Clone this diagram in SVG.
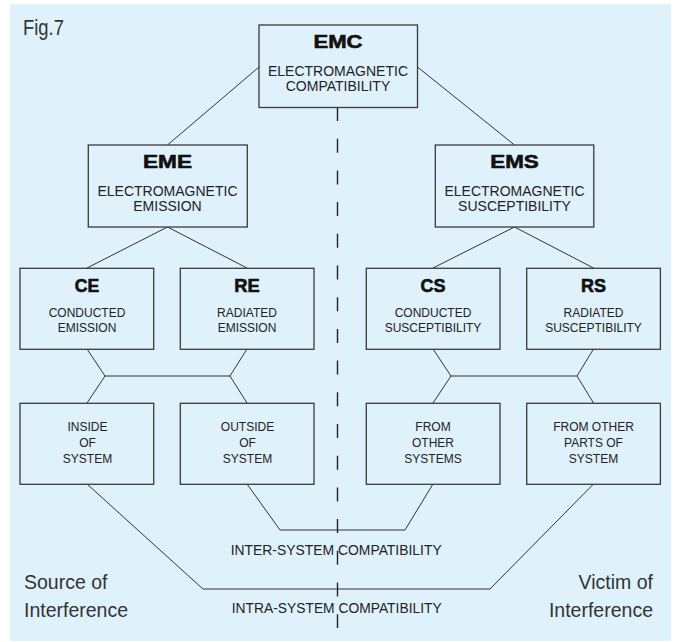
<svg xmlns="http://www.w3.org/2000/svg" width="676" height="642" viewBox="0 0 676 642">
<style>
.box{fill:#dff1fb;stroke:#3a3a3a;stroke-width:1.3}
.ln{fill:none;stroke:#333;stroke-width:1}
.dash{fill:none;stroke:#222;stroke-width:1.4;stroke-dasharray:14 17.7}
text{font-family:"Liberation Sans",Arial,sans-serif;fill:#222;text-anchor:middle}
.t{font-size:18px;font-weight:700;fill:#111;stroke:#111;stroke-width:0.6}
.m{font-size:14px}
.s{font-size:12px}
.b{font-size:14px}
.side{font-size:19.5px;fill:#333}
</style>
<rect x="10" y="4" width="661" height="637" fill="#dff1fb"/>
<text x="23" y="35" style="font-size:22px;text-anchor:start;fill:#333" textLength="41" lengthAdjust="spacingAndGlyphs">Fig.7</text>

<g id="connectors">
<line class="ln" x1="259" y1="67" x2="167.5" y2="145"/>
<line class="ln" x1="417.5" y1="67" x2="514.5" y2="145"/>
<polyline class="ln" points="87,268 167.5,227 247,268"/>
<polyline class="ln" points="433,268 514.5,227 593.5,268"/>
<polyline class="ln" points="87,349 105,376 87,403"/>
<polyline class="ln" points="247,349 230,376 247,403"/>
<line class="ln" x1="105" y1="376" x2="230" y2="376"/>
<polyline class="ln" points="433,349 451,376 433,403"/>
<polyline class="ln" points="593.5,349 577,376 593.5,403"/>
<line class="ln" x1="451" y1="376" x2="577" y2="376"/>
<polyline class="ln" points="247,484 280,530 405,530 433,484"/>
<polyline class="ln" points="87,484 203,589 490,589 593.5,484"/>
<line class="dash" x1="337.5" y1="107" x2="337.5" y2="628"/>
</g>

<g id="emc">
<rect class="box" x="259" y="25" width="158.5" height="82.5"/>
<text class="t" x="338" y="48.3" textLength="49" lengthAdjust="spacingAndGlyphs">EMC</text>
<text class="m" x="338" y="76">ELECTROMAGNETIC</text>
<text class="m" x="338" y="90.7">COMPATIBILITY</text>
</g>
<g id="eme">
<rect class="box" x="88.3" y="145" width="159" height="82"/>
<text class="t" x="167.5" y="168.3" textLength="49" lengthAdjust="spacingAndGlyphs">EME</text>
<text class="m" x="167.5" y="196">ELECTROMAGNETIC</text>
<text class="m" x="167.5" y="210.8">EMISSION</text>
</g>
<g id="ems">
<rect class="box" x="435.3" y="145" width="158.5" height="82"/>
<text class="t" x="514.5" y="168.3" textLength="48.5" lengthAdjust="spacingAndGlyphs">EMS</text>
<text class="m" x="514.5" y="196">ELECTROMAGNETIC</text>
<text class="m" x="514.5" y="210.8">SUSCEPTIBILITY</text>
</g>

<g id="ce">
<rect class="box" x="20" y="268.3" width="133.7" height="81"/>
<text class="t" x="87" y="291.7" textLength="24.5" lengthAdjust="spacingAndGlyphs">CE</text>
<text class="s" x="87" y="316.7">CONDUCTED</text>
<text class="s" x="87" y="331.7">EMISSION</text>
</g>
<g id="re">
<rect class="box" x="180.3" y="268.3" width="133.7" height="81"/>
<text class="t" x="247" y="291.7" textLength="25.5" lengthAdjust="spacingAndGlyphs">RE</text>
<text class="s" x="247" y="316.7">RADIATED</text>
<text class="s" x="247" y="331.7">EMISSION</text>
</g>
<g id="cs">
<rect class="box" x="366.3" y="268.3" width="133.7" height="81"/>
<text class="t" x="433" y="291.7" textLength="25" lengthAdjust="spacingAndGlyphs">CS</text>
<text class="s" x="433" y="316.7">CONDUCTED</text>
<text class="s" x="433" y="331.7">SUSCEPTIBILITY</text>
</g>
<g id="rs">
<rect class="box" x="526.7" y="268.3" width="133.7" height="81"/>
<text class="t" x="593.5" y="291.7" textLength="25" lengthAdjust="spacingAndGlyphs">RS</text>
<text class="s" x="593.5" y="316.7">RADIATED</text>
<text class="s" x="593.5" y="331.7">SUSCEPTIBILITY</text>
</g>

<g id="inside">
<rect class="box" x="20" y="403.3" width="133.7" height="81"/>
<text class="s" x="87.5" y="431.3">INSIDE</text>
<text class="s" x="87.5" y="447">OF</text>
<text class="s" x="87.5" y="463">SYSTEM</text>
</g>
<g id="outside">
<rect class="box" x="180.3" y="403.3" width="133.7" height="81"/>
<text class="s" x="247.5" y="431.3">OUTSIDE</text>
<text class="s" x="247.5" y="447">OF</text>
<text class="s" x="247.5" y="463">SYSTEM</text>
</g>
<g id="fromother">
<rect class="box" x="366.3" y="403.3" width="133.7" height="81"/>
<text class="s" x="433" y="431.3">FROM</text>
<text class="s" x="433" y="447">OTHER</text>
<text class="s" x="433" y="463">SYSTEMS</text>
</g>
<g id="fromparts">
<rect class="box" x="526.7" y="403.3" width="133.7" height="81"/>
<text class="s" x="593.5" y="431.3">FROM OTHER</text>
<text class="s" x="593.5" y="447">PARTS OF</text>
<text class="s" x="593.5" y="463">SYSTEM</text>
</g>

<text class="b" x="336.2" y="555" textLength="211" lengthAdjust="spacingAndGlyphs">INTER-SYSTEM COMPATIBILITY</text>
<text class="b" x="336.7" y="612.7" textLength="210" lengthAdjust="spacingAndGlyphs">INTRA-SYSTEM COMPATIBILITY</text>

<text class="side" x="24" y="589" style="text-anchor:start">Source of</text>
<text class="side" x="24" y="617" style="text-anchor:start">Interference</text>
<text class="side" x="653" y="589" style="text-anchor:end">Victim of</text>
<text class="side" x="653" y="617" style="text-anchor:end">Interference</text>
</svg>
